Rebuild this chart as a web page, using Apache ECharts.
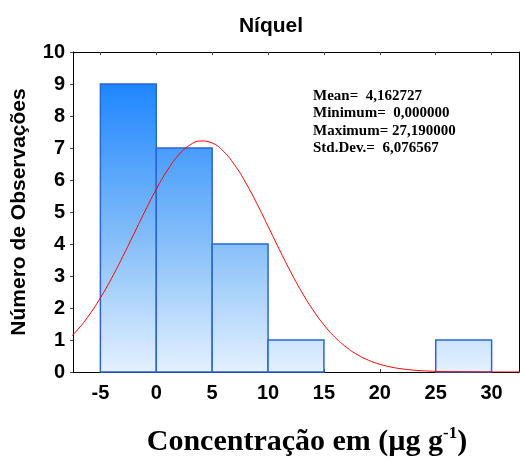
<!DOCTYPE html>
<html>
<head>
<meta charset="utf-8">
<script src="https://cdn.jsdelivr.net/npm/echarts@6/dist/echarts.min.js"></script>
<style>html,body{margin:0;padding:0;background:#fff;}#c{width:520px;height:461px;}</style>
</head>
<body>
<div id="c"></div>
<script>
var binStarts = [-5, 0, 5, 10, 15, 20, 25];
var binEnds = [0, 5, 10, 15, 20, 25, 30];
var counts = [9, 7, 4, 1, 0, 0, 1];
var xTicks = [-5, 0, 5, 10, 15, 20, 25, 30];
var yTicks = [0, 1, 2, 3, 4, 5, 6, 7, 8, 9, 10];
var curveX = [-8, -7, -6, -5, -4, -3, -2, -1, 0, 1, 2, 3, 4, 5, 6, 7, 8, 9, 10, 11, 12, 13, 14, 15, 16, 17, 18, 19, 20, 21, 22, 23, 24, 25, 26, 27, 28, 30, 33];
var curveY = [0.974, 1.336, 1.783, 2.317, 2.930, 3.605, 4.318, 5.034, 5.711, 6.307, 6.779, 7.091, 7.219, 7.154, 6.899, 6.476, 5.916, 5.261, 4.554, 3.836, 3.144, 2.509, 1.949, 1.473, 1.083, 0.776, 0.540, 0.366, 0.242, 0.155, 0.097, 0.059, 0.035, 0.020, 0.011, 0.006, 0.003, 0.001, 0.000];
var statsLines = ['Mean=  4,162727', 'Minimum=  0,000000', 'Maximum= 27,190000', 'Std.Dev.=  6,076567'];

var chart = echarts.init(document.getElementById('c'), null, {renderer: 'canvas'});
var barData = binStarts.map(function (s, i) { return [s, binEnds[i], counts[i]]; });
var curveData = curveX.map(function (x, i) { return [x, curveY[i]]; });

var option = {
  backgroundColor: '#ffffff',
  animation: false,
  title: {
    text: 'Níquel', left: 266, top: 11, textAlign: 'center',
    textStyle: {fontFamily: 'Liberation Sans, Arial', fontWeight: 'bold', fontSize: 21, color: '#000'}
  },
  grid: {left: 73, top: 52, right: 1, bottom: 89, containLabel: false},
  xAxis: [{
    type: 'value', min: -7.45, max: 32.45, position: 'bottom',
    axisLine: {show: true, onZero: false, lineStyle: {color: '#000', width: 1}},
    axisTick: {show: true, inside: true, length: 3, customValues: xTicks, lineStyle: {color: '#444'}},
    axisLabel: {customValues: xTicks, margin: 11, fontFamily: 'Liberation Sans, Arial', fontWeight: 'bold', fontSize: 20, color: '#000'},
    splitLine: {show: false}
  }, {
    type: 'value', min: -7.45, max: 32.45, position: 'top',
    axisLine: {show: true, onZero: false, lineStyle: {color: '#000', width: 1}},
    axisTick: {show: true, inside: true, length: 3, customValues: xTicks, lineStyle: {color: '#444'}},
    axisLabel: {show: false},
    splitLine: {show: false}
  }],
  yAxis: [{
    type: 'value', min: 0, max: 10, interval: 1, position: 'left',
    name: 'Número de Observações', nameLocation: 'middle', nameGap: 43,
    nameTextStyle: {fontFamily: 'Liberation Sans, Arial', fontWeight: 'bold', fontSize: 21, color: '#000'},
    axisLine: {show: true, onZero: false, lineStyle: {color: '#000', width: 1}},
    axisTick: {show: true, inside: false, length: 3, lineStyle: {color: '#444'}},
    axisLabel: {margin: 8, fontFamily: 'Liberation Sans, Arial', fontWeight: 'bold', fontSize: 20, color: '#000'},
    splitLine: {show: false}
  }, {
    type: 'value', min: 0, max: 10, interval: 1, position: 'right',
    axisLine: {show: true, onZero: false, lineStyle: {color: '#000', width: 1}},
    axisTick: {show: false}, axisLabel: {show: false}, splitLine: {show: false}
  }],
  series: [{
    type: 'custom',
    xAxisIndex: 0, yAxisIndex: 0,
    data: barData,
    renderItem: function (params, api) {
      var c = api.value(2);
      if (!c) return null;
      var p0 = api.coord([api.value(0), 0]);
      var p1 = api.coord([api.value(1), c]);
      var bottomY = api.coord([0, 0])[1];
      var topY9 = api.coord([0, 9])[1];
      return {
        type: 'rect',
        shape: {x: p0[0], y: p1[1], width: p1[0] - p0[0], height: p0[1] - p1[1]},
        style: {
          fill: new echarts.graphic.LinearGradient(0, topY9, 0, bottomY, [
            {offset: 0, color: '#1f86ff'},
            {offset: 0.55, color: '#86bff9'},
            {offset: 1, color: '#e4f1ff'}
          ], true),
          stroke: '#2a66d6', lineWidth: 1.5
        }
      };
    },
    z: 2
  }, {
    type: 'line', xAxisIndex: 0, yAxisIndex: 0,
    data: curveData, smooth: true, showSymbol: false, symbol: 'none',
    lineStyle: {color: '#ff0000', width: 1}, clip: true, z: 3
  }],
  graphic: [{
    type: 'text', x: 313, y: 87,
    style: {
      text: statsLines.join('\n'),
      font: 'bold 15px "Liberation Serif", "Times New Roman", serif',
      lineHeight: 17.5, fill: '#000'
    }
  }, {
    type: 'text', x: 307, y: 442,
    style: {
      text: '{m|Concentração em (µg g}{s|-1}{m|)}',
      rich: {
        m: {font: 'bold 30px "Liberation Serif", "Times New Roman", serif', fill: '#000'},
        s: {font: 'bold 17px "Liberation Serif", "Times New Roman", serif', fill: '#000', padding: [0, 0, 17, 0]}
      },
      align: 'center', verticalAlign: 'middle'
    }
  }]
};
chart.setOption(option);
</script>
</body>
</html>
